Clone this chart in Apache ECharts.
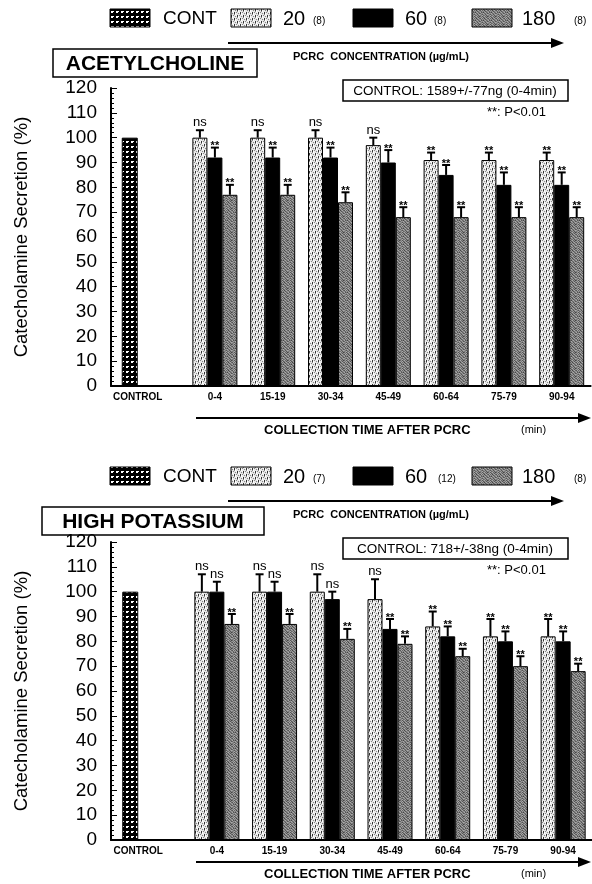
<!DOCTYPE html>
<html>
<head>
<meta charset="utf-8">
<script src="https://cdn.jsdelivr.net/npm/echarts@6/dist/echarts.min.js"></script>
<style>
  html, body { margin: 0; padding: 0; background: #fff; }
  #chart { width: 592px; height: 884px; }
</style>
</head>
<body>
<div id="chart"></div>
<script>
// Collection periods after PCRC (min)
const periods = ['0-4', '15-19', '30-34', '45-49', '60-64', '75-79', '90-94'];
const controlCategories = ['CONTROL', ''];
const yMin = 0, yMax = 120, yStep = 10;

// Acetylcholine-evoked secretion (% of control)
const achControl = [100];
const ach20 = [100, 100, 100, 97, 91, 91, 91];
const ach20Err = [3, 3, 3, 3, 3, 3, 3];
const ach20Sig = ['ns', 'ns', 'ns', 'ns', '**', '**', '**'];
const ach60 = [92, 92, 92, 90, 85, 81, 81];
const ach60Err = [4, 4, 4, 5, 4, 5, 5];
const ach60Sig = ['**', '**', '**', '**', '**', '**', '**'];
const ach180 = [77, 77, 74, 68, 68, 68, 68];
const ach180Err = [4, 4, 4, 4, 4, 4, 4];
const ach180Sig = ['**', '**', '**', '**', '**', '**', '**'];
const achN = ['(8)', '(8)', '(8)'];
const achControlText = 'CONTROL: 1589+/-77ng (0-4min)';

// High-potassium-evoked secretion (% of control)
const kControl = [100];
const k20 = [100, 100, 100, 97, 86, 82, 82];
const k20Err = [7, 7, 7, 8, 6, 7, 7];
const k20Sig = ['ns', 'ns', 'ns', 'ns', '**', '**', '**'];
const k60 = [100, 100, 97, 85, 82, 80, 80];
const k60Err = [4, 4, 3, 4, 4, 4, 4];
const k60Sig = ['ns', 'ns', 'ns', '**', '**', '**', '**'];
const k180 = [87, 87, 81, 79, 74, 70, 68];
const k180Err = [4, 4, 4, 3, 3, 4, 3];
const k180Sig = ['**', '**', '**', '**', '**', '**', '**'];
const kN = ['(7)', '(12)', '(8)'];
const kControlText = 'CONTROL: 718+/-38ng (0-4min)';

const doseLabels = ['20', '60', '180'];

const FONT = '"Liberation Sans", Arial, Helvetica, sans-serif';
const BAR_W = 15;

// ---- fill textures ----
function tile(w, h, draw) {
  const c = document.createElement('canvas');
  c.width = w; c.height = h;
  const g = c.getContext('2d');
  draw(g);
  return { image: c, repeat: 'repeat' };
}
function px(g, color, pts) {
  g.fillStyle = color;
  pts.forEach(p => g.fillRect(p[0], p[1], 1, 1));
}
// control: black with small white triangles
const contFill = tile(5, 5, g => {
  g.fillStyle = '#000'; g.fillRect(0, 0, 5, 5);
  px(g, '#fff', [[1, 1], [2, 1], [3, 1], [2, 2], [1, 2]]);
});
// 20 µg/mL: light brick-like weave with dark dashes
const lowFill = tile(6, 6, g => {
  g.fillStyle = '#e6e6e6'; g.fillRect(0, 0, 6, 6);
  px(g, '#333', [[0, 0], [0, 1], [3, 3], [3, 4]]);
  px(g, '#888', [[0, 2], [3, 5], [1, 4], [4, 1], [5, 3], [2, 0]]);
  px(g, '#fff', [[1, 1], [4, 4], [2, 3], [5, 0], [1, 2], [4, 5]]);
});
// 60 µg/mL: solid black
const midFill = '#000';
// 180 µg/mL: grainy mid grey
const highFill = tile(8, 8, g => {
  const shades = [
    '#666', '#999', '#555', '#888', '#aaa', '#666', '#888', '#444',
    '#999', '#777', '#aaa', '#555', '#777', '#999', '#555', '#888',
    '#555', '#aaa', '#666', '#999', '#444', '#888', '#aaa', '#666',
    '#888', '#666', '#999', '#777', '#999', '#555', '#777', '#999',
    '#aaa', '#555', '#777', '#444', '#888', '#aaa', '#666', '#777',
    '#666', '#999', '#888', '#aaa', '#666', '#777', '#999', '#555',
    '#999', '#777', '#555', '#888', '#999', '#555', '#888', '#aaa',
    '#777', '#888', '#aaa', '#666', '#777', '#999', '#555', '#888'
  ];
  shades.forEach((s, i) => { g.fillStyle = s; g.fillRect(i % 8, Math.floor(i / 8), 1, 1); });
});
const doseFills = [lowFill, midFill, highFill];

// ---- error whiskers and significance marks ----
function whiskers(offsetIndex) {
  return function (params, api) {
    const base = api.coord([api.value(0), api.value(1)]);
    const tip = api.coord([api.value(0), api.value(1) + api.value(2)]);
    const x = base[0] + offsetIndex * BAR_W;
    const sig = api.value(3);
    const isNs = sig === 'ns';
    return {
      type: 'group',
      children: [
        { type: 'line', shape: { x1: x, y1: base[1], x2: x, y2: tip[1] },
          style: { stroke: '#000', lineWidth: 2 } },
        { type: 'line', shape: { x1: x - 4, y1: tip[1], x2: x + 4, y2: tip[1] },
          style: { stroke: '#000', lineWidth: 2 } },
        { type: 'text', x: x, y: tip[1] + (isNs ? -1 : 4),
          style: { text: sig, fill: '#000', align: 'center', verticalAlign: 'bottom',
                   font: (isNs ? '13px ' : 'bold 11px ') + FONT } }
      ]
    };
  };
}

// ---- one panel = control grid + period grid ----
function panel(p) {
  const gi = p.gridBase;
  const grids = [
    { left: p.axisX, top: p.top, width: p.ctrlW, height: p.height },
    { left: p.axisX + p.ctrlW, top: p.top, width: p.groupW, height: p.height }
  ];
  const xAxes = [
    { type: 'category', gridIndex: gi, data: controlCategories,
      axisLine: { lineStyle: { color: '#000', width: 2 } }, axisTick: { show: false },
      axisLabel: { color: '#000', fontFamily: FONT, fontWeight: 'bold', fontSize: 10, margin: 6,
                   padding: [0, 0, 0, 16], interval: 0 } },
    { type: 'category', gridIndex: gi + 1, data: periods,
      axisLine: { lineStyle: { color: '#000', width: 2 } }, axisTick: { show: false },
      axisLabel: { color: '#000', fontFamily: FONT, fontWeight: 'bold', fontSize: 10, margin: 6, interval: 0 } }
  ];
  const yAxes = [
    { type: 'value', gridIndex: gi, min: yMin, max: yMax, interval: yStep,
      name: 'Catecholamine Secretion (%)', nameLocation: 'middle', nameGap: 80, nameRotate: 90,
      nameTextStyle: { color: '#000', fontFamily: FONT, fontSize: 18.5 },
      axisLine: { show: true, lineStyle: { color: '#000', width: 2 } },
      axisTick: { show: true, inside: true, length: 6, lineStyle: { color: '#000', width: 1 } },
      minorTick: { show: true, splitNumber: 5, length: 3, lineStyle: { color: '#000', width: 1 } },
      splitLine: { show: false },
      axisLabel: { color: '#000', fontFamily: FONT, fontSize: 19, margin: 14 } },
    { type: 'value', gridIndex: gi + 1, min: yMin, max: yMax, interval: yStep, show: false,
      splitLine: { show: false } }
  ];
  const series = [
    { type: 'bar', xAxisIndex: gi, yAxisIndex: gi, data: p.control, barWidth: 16,
      itemStyle: { color: contFill, borderColor: '#000', borderWidth: 1 }, silent: true }
  ];
  p.doses.forEach((d, k) => {
    series.push({ type: 'bar', xAxisIndex: gi + 1, yAxisIndex: gi + 1, data: d.values,
      barWidth: BAR_W, barGap: '0%',
      itemStyle: { color: doseFills[k], borderColor: '#000', borderWidth: 1 }, silent: true });
  });
  p.doses.forEach((d, k) => {
    series.push({ type: 'custom', xAxisIndex: gi + 1, yAxisIndex: gi + 1, z: 5, silent: true,
      renderItem: whiskers(k - 1),
      data: d.values.map((v, i) => [i, v, d.err[i], d.sig[i]]) });
  });

  // legend row, panel title and notes
  const dy = p.dy;
  const legendY = 9 + dy;
  const g = [];
  const box = (x, fill) => g.push({ type: 'rect', shape: { x: x, y: legendY, width: 40, height: 18 },
    style: { fill: fill, stroke: '#000', lineWidth: 1 } });
  const txt = (x, y, text, font, align) => g.push({ type: 'text', x: x, y: y,
    style: { text: text, font: font, fill: '#000', align: align || 'left', verticalAlign: 'middle' } });
  box(110, contFill); txt(163, legendY + 10, 'CONT', '19px ' + FONT);
  box(231, lowFill); txt(283, legendY + 10, doseLabels[0], '20px ' + FONT);
  txt(313, legendY + 12, p.n[0], '10px ' + FONT);
  box(353, midFill); txt(405, legendY + 10, doseLabels[1], '20px ' + FONT);
  txt(p.n[1].length > 3 ? 438 : 434, legendY + 12, p.n[1], '10px ' + FONT);
  box(472, highFill); txt(522, legendY + 10, doseLabels[2], '20px ' + FONT);
  txt(574, legendY + 12, p.n[2], '10px ' + FONT);
  // concentration arrow
  g.push({ type: 'line', shape: { x1: 228, y1: 43 + dy, x2: 558, y2: 43 + dy }, style: { stroke: '#000', lineWidth: 2 } });
  g.push({ type: 'polygon', shape: { points: [[564, 43 + dy], [551, 38 + dy], [551, 48 + dy]] }, style: { fill: '#000' } });
  txt(293, 57 + dy, 'PCRC  CONCENTRATION (µg/mL)', 'bold 11px ' + FONT);
  // panel title box
  g.push({ type: 'rect', shape: { x: p.titleX, y: 49 + dy, width: p.titleW, height: 28 },
    style: { fill: '#fff', stroke: '#000', lineWidth: 1.5 } });
  txt(p.titleX + p.titleW / 2, 64 + dy, p.title, 'bold 21px ' + FONT, 'center');
  // control amount box
  g.push({ type: 'rect', shape: { x: 343, y: 80 + dy, width: 225, height: 21 },
    style: { fill: '#fff', stroke: '#000', lineWidth: 1.5 } });
  txt(455, 91 + dy, p.controlText, '13.5px ' + FONT, 'center');
  txt(487, 112 + dy, '**: P<0.01', '13px ' + FONT);
  // collection time arrow
  const ay = p.timeArrowY;
  g.push({ type: 'line', shape: { x1: 196, y1: ay, x2: 584, y2: ay }, style: { stroke: '#000', lineWidth: 2 } });
  g.push({ type: 'polygon', shape: { points: [[591, ay], [578, ay - 5], [578, ay + 5]] }, style: { fill: '#000' } });
  txt(264, ay + 12, 'COLLECTION TIME AFTER PCRC', 'bold 13px ' + FONT);
  txt(521, ay + 12, '(min)', '11px ' + FONT);

  return { grids, xAxes, yAxes, series, graphics: g };
}

const panelAch = panel({
  gridBase: 0, dy: 0, axisX: 111, ctrlW: 75, groupW: 404.6, top: 88, height: 298,
  control: achControl,
  doses: [
    { values: ach20, err: ach20Err, sig: ach20Sig },
    { values: ach60, err: ach60Err, sig: ach60Sig },
    { values: ach180, err: ach180Err, sig: ach180Sig }
  ],
  n: achN, title: 'ACETYLCHOLINE', titleX: 53, titleW: 204, controlText: achControlText,
  timeArrowY: 418
});
const panelK = panel({
  gridBase: 2, dy: 458, axisX: 111, ctrlW: 77, groupW: 404.6, top: 542, height: 298,
  control: kControl,
  doses: [
    { values: k20, err: k20Err, sig: k20Sig },
    { values: k60, err: k60Err, sig: k60Sig },
    { values: k180, err: k180Err, sig: k180Sig }
  ],
  n: kN, title: 'HIGH POTASSIUM', titleX: 42, titleW: 222, controlText: kControlText,
  timeArrowY: 862
});

const chart = echarts.init(document.getElementById('chart'), null, { renderer: 'canvas' });
chart.setOption({
  animation: false,
  backgroundColor: '#fff',
  grid: panelAch.grids.concat(panelK.grids),
  xAxis: panelAch.xAxes.concat(panelK.xAxes),
  yAxis: panelAch.yAxes.concat(panelK.yAxes),
  series: panelAch.series.concat(panelK.series),
  graphic: panelAch.graphics.concat(panelK.graphics)
});
</script>
</body>
</html>
